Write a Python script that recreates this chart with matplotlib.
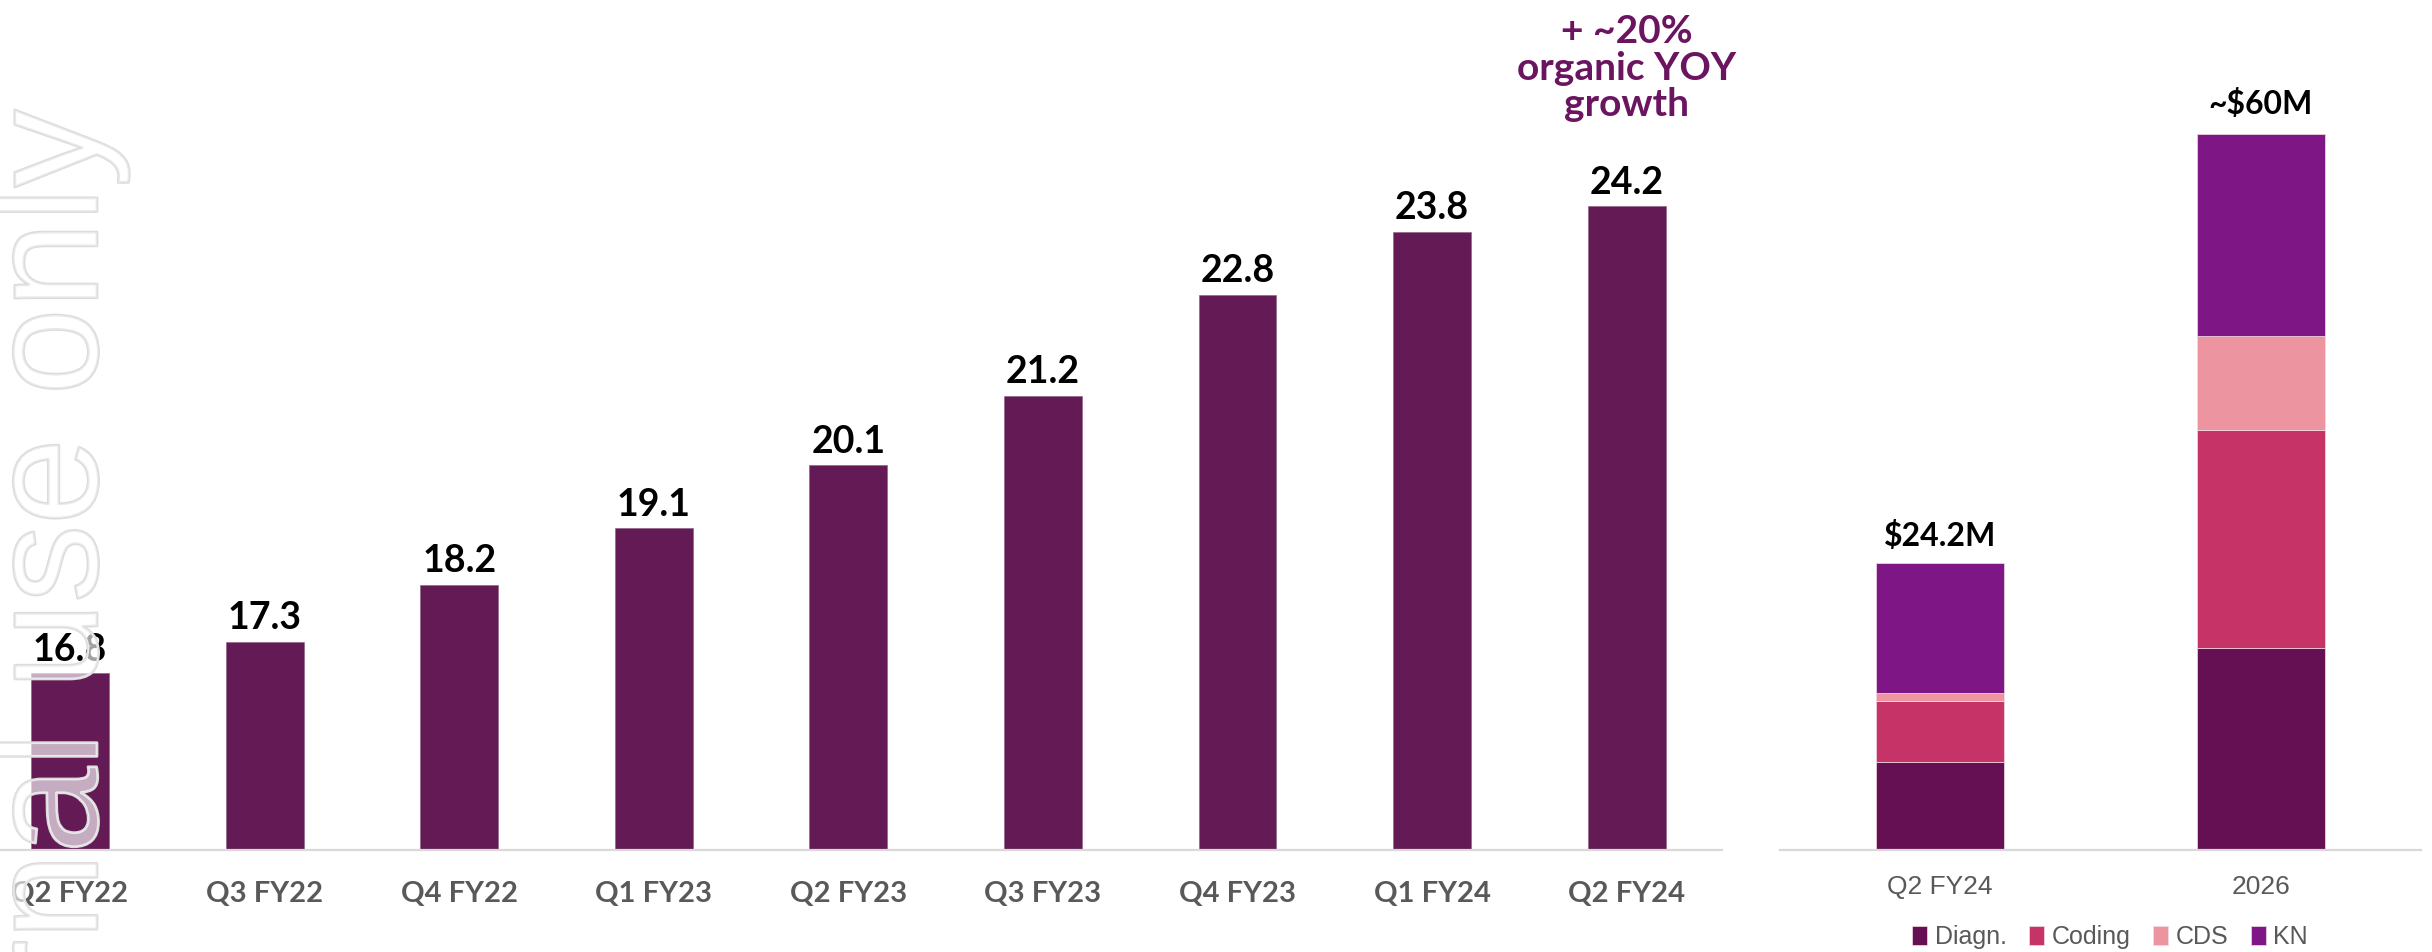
import matplotlib.pyplot as plt
import matplotlib.patheffects as pe
import numpy as np

# quarterly revenue ($M)
quarters = ["Q2 FY22", "Q3 FY22", "Q4 FY22", "Q1 FY23", "Q2 FY23",
            "Q3 FY23", "Q4 FY23", "Q1 FY24", "Q2 FY24"]
revenue = [16.8, 17.3, 18.2, 19.1, 20.1, 21.2, 22.8, 23.8, 24.2]

# revenue split, today vs 2026 target
periods = ["Q2 FY24", "2026"]
period_labels = ["$24.2M", "~$60M"]
segments = ["Diagn.", "Coding", "CDS", "KN"]
diagn = [7.46, 17.0]
coding = [5.10, 18.45]
cds = [0.67, 7.85]
kn = [10.97, 17.1]

bar_color = "#641b55"
seg_colors = ["#641052", "#c53367", "#ec95a0", "#7e1785"]
axis_gray = "#d9d9d9"
label_gray = "#595959"
accent = "#6b1561"

fig = plt.figure(figsize=(24.32, 9.52), dpi=100)

# ---- left: quarterly bars ----
ax = fig.add_axes([0, 0.10714, 0.7081, 0.89286])
x = np.arange(len(quarters))
ax.bar(x, revenue, width=0.4, color=bar_color, edgecolor="#8a5a80", linewidth=0.4)
ax.set_xlim(-0.36, 8.49)
ax.set_ylim(14, 14 + 850 / 63.1)
for xi, v in zip(x, revenue):
    ax.annotate(f"{v}", (xi, v), xytext=(0, 9), textcoords="offset points",
                ha="center", va="baseline", fontsize=27, fontweight="bold",
                family=["Lato", "DejaVu Sans"], color="black")
ax.set_xticks(x)
ax.set_xticklabels(quarters, fontsize=21, fontweight="bold", color=label_gray,
                   family=["Lato", "DejaVu Sans"])
ax.tick_params(axis="x", length=0, pad=22)
ax.set_yticks([])
for s in ["top", "right", "left"]:
    ax.spines[s].set_visible(False)
ax.spines["bottom"].set_color(axis_gray)
ax.spines["bottom"].set_linewidth(1.6)
ax.patch.set_alpha(0)

ax.text(x[-1], 14 + (850 - 68) / 63.1, "+ ~20%\norganic YOY\ngrowth",
        ha="center", va="center", multialignment="center", linespacing=1.05,
        fontsize=28, fontweight="bold", color=accent, family=["Lato", "DejaVu Sans"])

# ---- right: stacked split ----
ax2 = fig.add_axes([0.7319, 0.10714, 0.2636, 0.89286])
x2 = np.arange(len(periods))
bottom = np.zeros(len(periods))
for name, vals, c in zip(segments, [diagn, coding, cds, kn], seg_colors):
    ax2.bar(x2, vals, width=0.4, bottom=bottom, color=c, label=name,
            edgecolor="#f2dde8", linewidth=0.5)
    bottom += np.array(vals)
ax2.set_xlim(-0.5, 1.5)
ax2.set_ylim(0, 850 / 11.86)
for xi, tot, lab, off in zip(x2, bottom, period_labels, [12, 14]):
    ax2.annotate(lab, (xi, tot), xytext=(0, off), textcoords="offset points",
                 ha="center", va="baseline", fontsize=23, fontweight="bold",
                 family=["Lato", "DejaVu Sans"], color="black")
ax2.set_xticks(x2)
ax2.set_xticklabels(periods, fontsize=19, color=label_gray,
                    family=["Liberation Sans Narrow", "Liberation Sans", "DejaVu Sans"])
ax2.tick_params(axis="x", length=0, pad=18)
ax2.set_yticks([])
for s in ["top", "right", "left"]:
    ax2.spines[s].set_visible(False)
ax2.spines["bottom"].set_color(axis_gray)
ax2.spines["bottom"].set_linewidth(1.6)
ax2.patch.set_alpha(0)

leg = fig.legend(loc="center", bbox_to_anchor=(2110 / 2432, 1 - 937 / 952), ncol=4,
                 frameon=False, handlelength=0.6, handleheight=0.8, handletextpad=0.3,
                 columnspacing=0.9,
                 prop={"family": ["Liberation Sans Narrow", "Liberation Sans"], "size": 18})
for t in leg.get_texts():
    t.set_color(label_gray)

# watermark
fig.text(97 / 2432, 1 - 110 / 952, "Internal use only", rotation=90,
         rotation_mode="anchor", ha="right", va="baseline", fontsize=112,
         family=["Liberation Sans", "DejaVu Sans"], color=(1, 1, 1, 0.4),
         path_effects=[pe.Stroke(linewidth=2, foreground="#dcdcdc"), pe.Normal()])

fig.savefig("out.png", dpi=100)
